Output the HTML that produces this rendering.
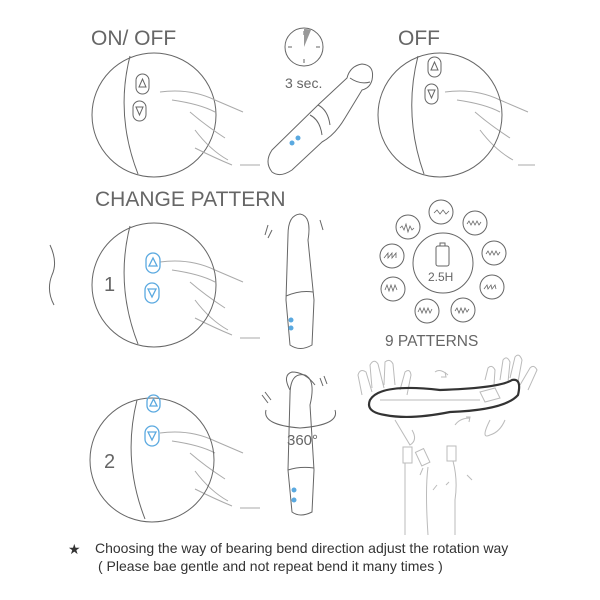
<!DOCTYPE html>
<html><head><meta charset="utf-8"><style>
html,body{margin:0;padding:0;background:#fff;}
svg{display:block;}
text{font-family:"Liberation Sans",sans-serif;fill:#666;}
</style></head><body>
<svg width="600" height="600" viewBox="0 0 600 600" xmlns="http://www.w3.org/2000/svg">
<g fill="none" stroke="#666" stroke-width="1">
<circle cx="154" cy="115" r="62"/>
<path d="M130 56 Q115 115 138 174"/>
<rect x="136" y="74" width="13" height="20" rx="6.5"/><path d="M139 87 L142.5 79 L146 87Z"/>
<rect x="133" y="101" width="13" height="20" rx="6.5"/><path d="M136 107 L139.5 115 L143 107Z"/>
</g>
<g fill="none" stroke="#aaa" stroke-width="1">
<path d="M160 92 Q190 88 215 100 L243 112 M172 100 Q200 104 215 112 M190 112 Q205 125 225 138 M195 130 Q210 150 228 160 M195 148 Q215 158 232 165 M240 165 L260 165"/>
<path d="M160 262 Q190 258 215 270 L243 282 M172 270 Q200 274 215 282 M190 282 Q205 295 225 308 M195 300 Q210 320 228 330 M195 318 Q215 328 232 335 M240 338 L260 338"/>
<path d="M160 433 Q190 429 215 441 L243 453 M172 441 Q200 445 215 453 M190 453 Q205 466 225 479 M195 471 Q210 491 228 501 M195 489 Q215 499 232 506 M240 508 L260 508"/>
<path d="M445 92 Q475 88 500 100 L528 112 M457 100 Q485 104 500 112 M475 112 Q490 125 510 138 M480 130 Q495 150 513 160 M518 165 L535 165"/>
</g>
<g fill="none" stroke="#666" stroke-width="1">
<circle cx="304" cy="47" r="19"/>
<path d="M304 31 L304 35 M304 59 L304 63 M288 47 L292 47 M316 47 L320 47"/>
<path d="M304 47 L304 29 A18 18 0 0 1 311 30 Z" fill="#999" stroke="none"/>
<!-- vibrator 1 -->
<path d="M272 150 L318 105 L347 78 Q350 66 362 64 Q375 65 372 80 Q370 88 362 90 L345 118 Q335 135 322 142 L292 170 Q280 178 272 172 Q264 162 272 150 Z"/>
<path d="M350 78 Q360 85 370 82 M318 105 Q328 110 330 125 M310 115 Q320 120 322 135"/>
<circle cx="454" cy="115" r="0" />
<circle cx="440" cy="115" r="62"/>
<path d="M418 56 Q403 115 424 174"/>
<rect x="428" y="57" width="13" height="20" rx="6.5"/><path d="M431 70 L434.5 62 L438 70Z"/>
<rect x="425" y="84" width="13" height="20" rx="6.5"/><path d="M428 90 L431.5 98 L435 90Z"/>
<circle cx="154" cy="285" r="62"/>
<path d="M130 226 Q115 285 138 344"/>
<path d="M50 245 Q58 262 52 275 Q46 290 54 305"/>
<path d="M288 235 Q288 215 300 214 Q312 216 308 240 L314 300 L312 345 Q300 352 290 345 L286 300 Z"/>
<path d="M286 296 Q300 290 313 292 M268 225 L265 235 M272 230 L268 238 M320 220 L323 230"/>
<circle cx="152" cy="460" r="62"/>
<path d="M137 400 Q122 460 145 519"/>
<path d="M290 395 Q290 372 305 375 Q316 380 310 405 L314 470 L312 512 Q300 518 292 512 L288 470 Z"/>
<path d="M290 390 Q282 375 292 372 Q305 372 315 385 M288 470 Q300 466 314 468"/>
<path d="M266 410 Q262 425 300 428 Q340 425 335 410"/>
<path d="M262 395 L268 403 M265 392 L271 400 M320 378 L323 386 M324 376 L327 384"/>
<circle cx="443" cy="263" r="30"/>
<g>
<circle cx="441" cy="212" r="12"/><circle cx="475" cy="223" r="12"/><circle cx="494" cy="253" r="12"/>
<circle cx="492" cy="287" r="12"/><circle cx="463" cy="310" r="12"/><circle cx="427" cy="311" r="12"/>
<circle cx="393" cy="289" r="12"/><circle cx="392" cy="256" r="12"/><circle cx="408" cy="227" r="12"/>
</g>
<g stroke-width="0.8">
<path d="M434 213 l3 -3 l3 4 l3 -4 l3 4 l3 -3"/>
<path d="M467 224 l2 -3 l2 4 l2 -4 l2 4 l2 -4 l2 4 l2 -3"/>
<path d="M486 254 l2 -3 l2 4 l2 -4 l2 4 l2 -4 l2 4 l2 -3"/>
<path d="M484 289 l3 -4 l1 4 l3 -4 l1 4 l3 -4 l1 4"/>
<path d="M455 311 l2 -3 l2 5 l2 -5 l2 5 l2 -5 l2 4 l2 -3"/>
<path d="M418 312 l2 -4 l2 5 l2 -5 l2 5 l2 -5 l2 5 l2 -4"/>
<path d="M385 290 l2 -5 l2 6 l2 -6 l2 6 l2 -6 l2 5"/>
<path d="M384 258 l4 -5 l0 5 l4 -5 l0 5 l4 -5 l0 5"/>
<path d="M400 228 l2 -2 l2 4 l2 -6 l2 8 l2 -6 l2 4 l2 -2"/>
</g>
<rect x="436" y="246" width="13" height="20" rx="2"/><rect x="440" y="243" width="5" height="3"/>
</g>
<g fill="none" stroke="#bbb" stroke-width="1">
<path d="M362 395 L358 375 Q360 368 366 372 L372 392 M372 388 L370 365 Q374 358 378 364 L384 388 M384 385 L385 362 Q390 358 393 364 L395 385 M400 390 L405 372 Q410 368 411 375 L407 395"/>
<path d="M500 380 L503 360 Q507 355 510 362 L508 382 M510 378 L515 357 Q519 352 522 360 L518 382 M520 385 L530 368 Q534 364 537 370 L528 390 M485 380 L488 368 Q492 364 495 370 L494 385"/>
<path d="M395 420 L410 445 Q418 440 412 430 M490 420 Q480 440 490 435 Q500 432 505 420"/>
<path d="M435 372 Q440 368 448 375 M445 372 L446 377 L441 377 M455 425 Q460 418 470 418 M466 417 L470 417 L469 422"/>
<rect x="403" y="447" width="9" height="16"/><rect x="418" y="450" width="9" height="15" transform="rotate(-25 422 457)"/><rect x="447" y="446" width="9" height="15"/>
<path d="M405 463 L405 535 M428 467 Q425 490 428 535 M453 461 Q458 480 455 500 L455 535 M420 475 L423 468 M433 490 L437 485 M446 485 L449 482 M467 475 L472 480 M380 400 L480 400"/>
<path d="M480 392 L495 388 L500 398 L485 402 Z"/>
</g>
<path d="M370 400 Q380 383 440 390 Q500 388 512 380 Q522 378 518 395 Q505 410 450 412 Q410 420 385 415 Q365 412 370 400Z" fill="none" stroke="#333" stroke-width="2.2"/>
<g fill="#5aa9e0" stroke="none">
<circle cx="292" cy="143" r="2.5"/><circle cx="298" cy="138" r="2.5"/>
<circle cx="291" cy="320" r="2.5"/><circle cx="291" cy="328" r="2.5"/>
<circle cx="294" cy="490" r="2.5"/><circle cx="294" cy="500" r="2.5"/>
</g>
<g fill="none" stroke="#5aa9e0" stroke-width="1.3">
<rect x="146" y="253" width="14" height="20" rx="7"/><path d="M149 266 L153 258 L157 266Z"/>
<rect x="145" y="283" width="14" height="20" rx="7"/><path d="M148 289 L152 297 L156 289Z"/>
<rect x="147" y="395" width="13" height="17" rx="6.5"/><path d="M150 406 L153.5 399 L157 406Z"/>
<rect x="145" y="426" width="14" height="20" rx="7"/><path d="M148 432 L152 440 L156 432Z"/>
</g>
<text x="91" y="45" font-size="21">ON/ OFF</text>
<text x="285" y="88" font-size="14">3 sec.</text>
<text x="398" y="45" font-size="21">OFF</text>
<text x="95" y="206" font-size="21">CHANGE PATTERN</text>
<text x="104" y="291" font-size="20">1</text>
<text x="104" y="468" font-size="20">2</text>
<text x="428" y="281" font-size="12">2.5H</text>
<text x="385" y="346" font-size="15.5">9 PATTERNS</text>
<text x="287" y="445" font-size="15">360°</text>
<text x="68" y="554" font-size="14" style="fill:#333">★</text>
<text x="95" y="553" font-size="14" style="fill:#333">Choosing the way of bearing bend direction adjust the rotation way</text>
<text x="98" y="571" font-size="14" style="fill:#333">( Please bae gentle and not repeat bend it many times )</text>
</svg>
</body></html>
